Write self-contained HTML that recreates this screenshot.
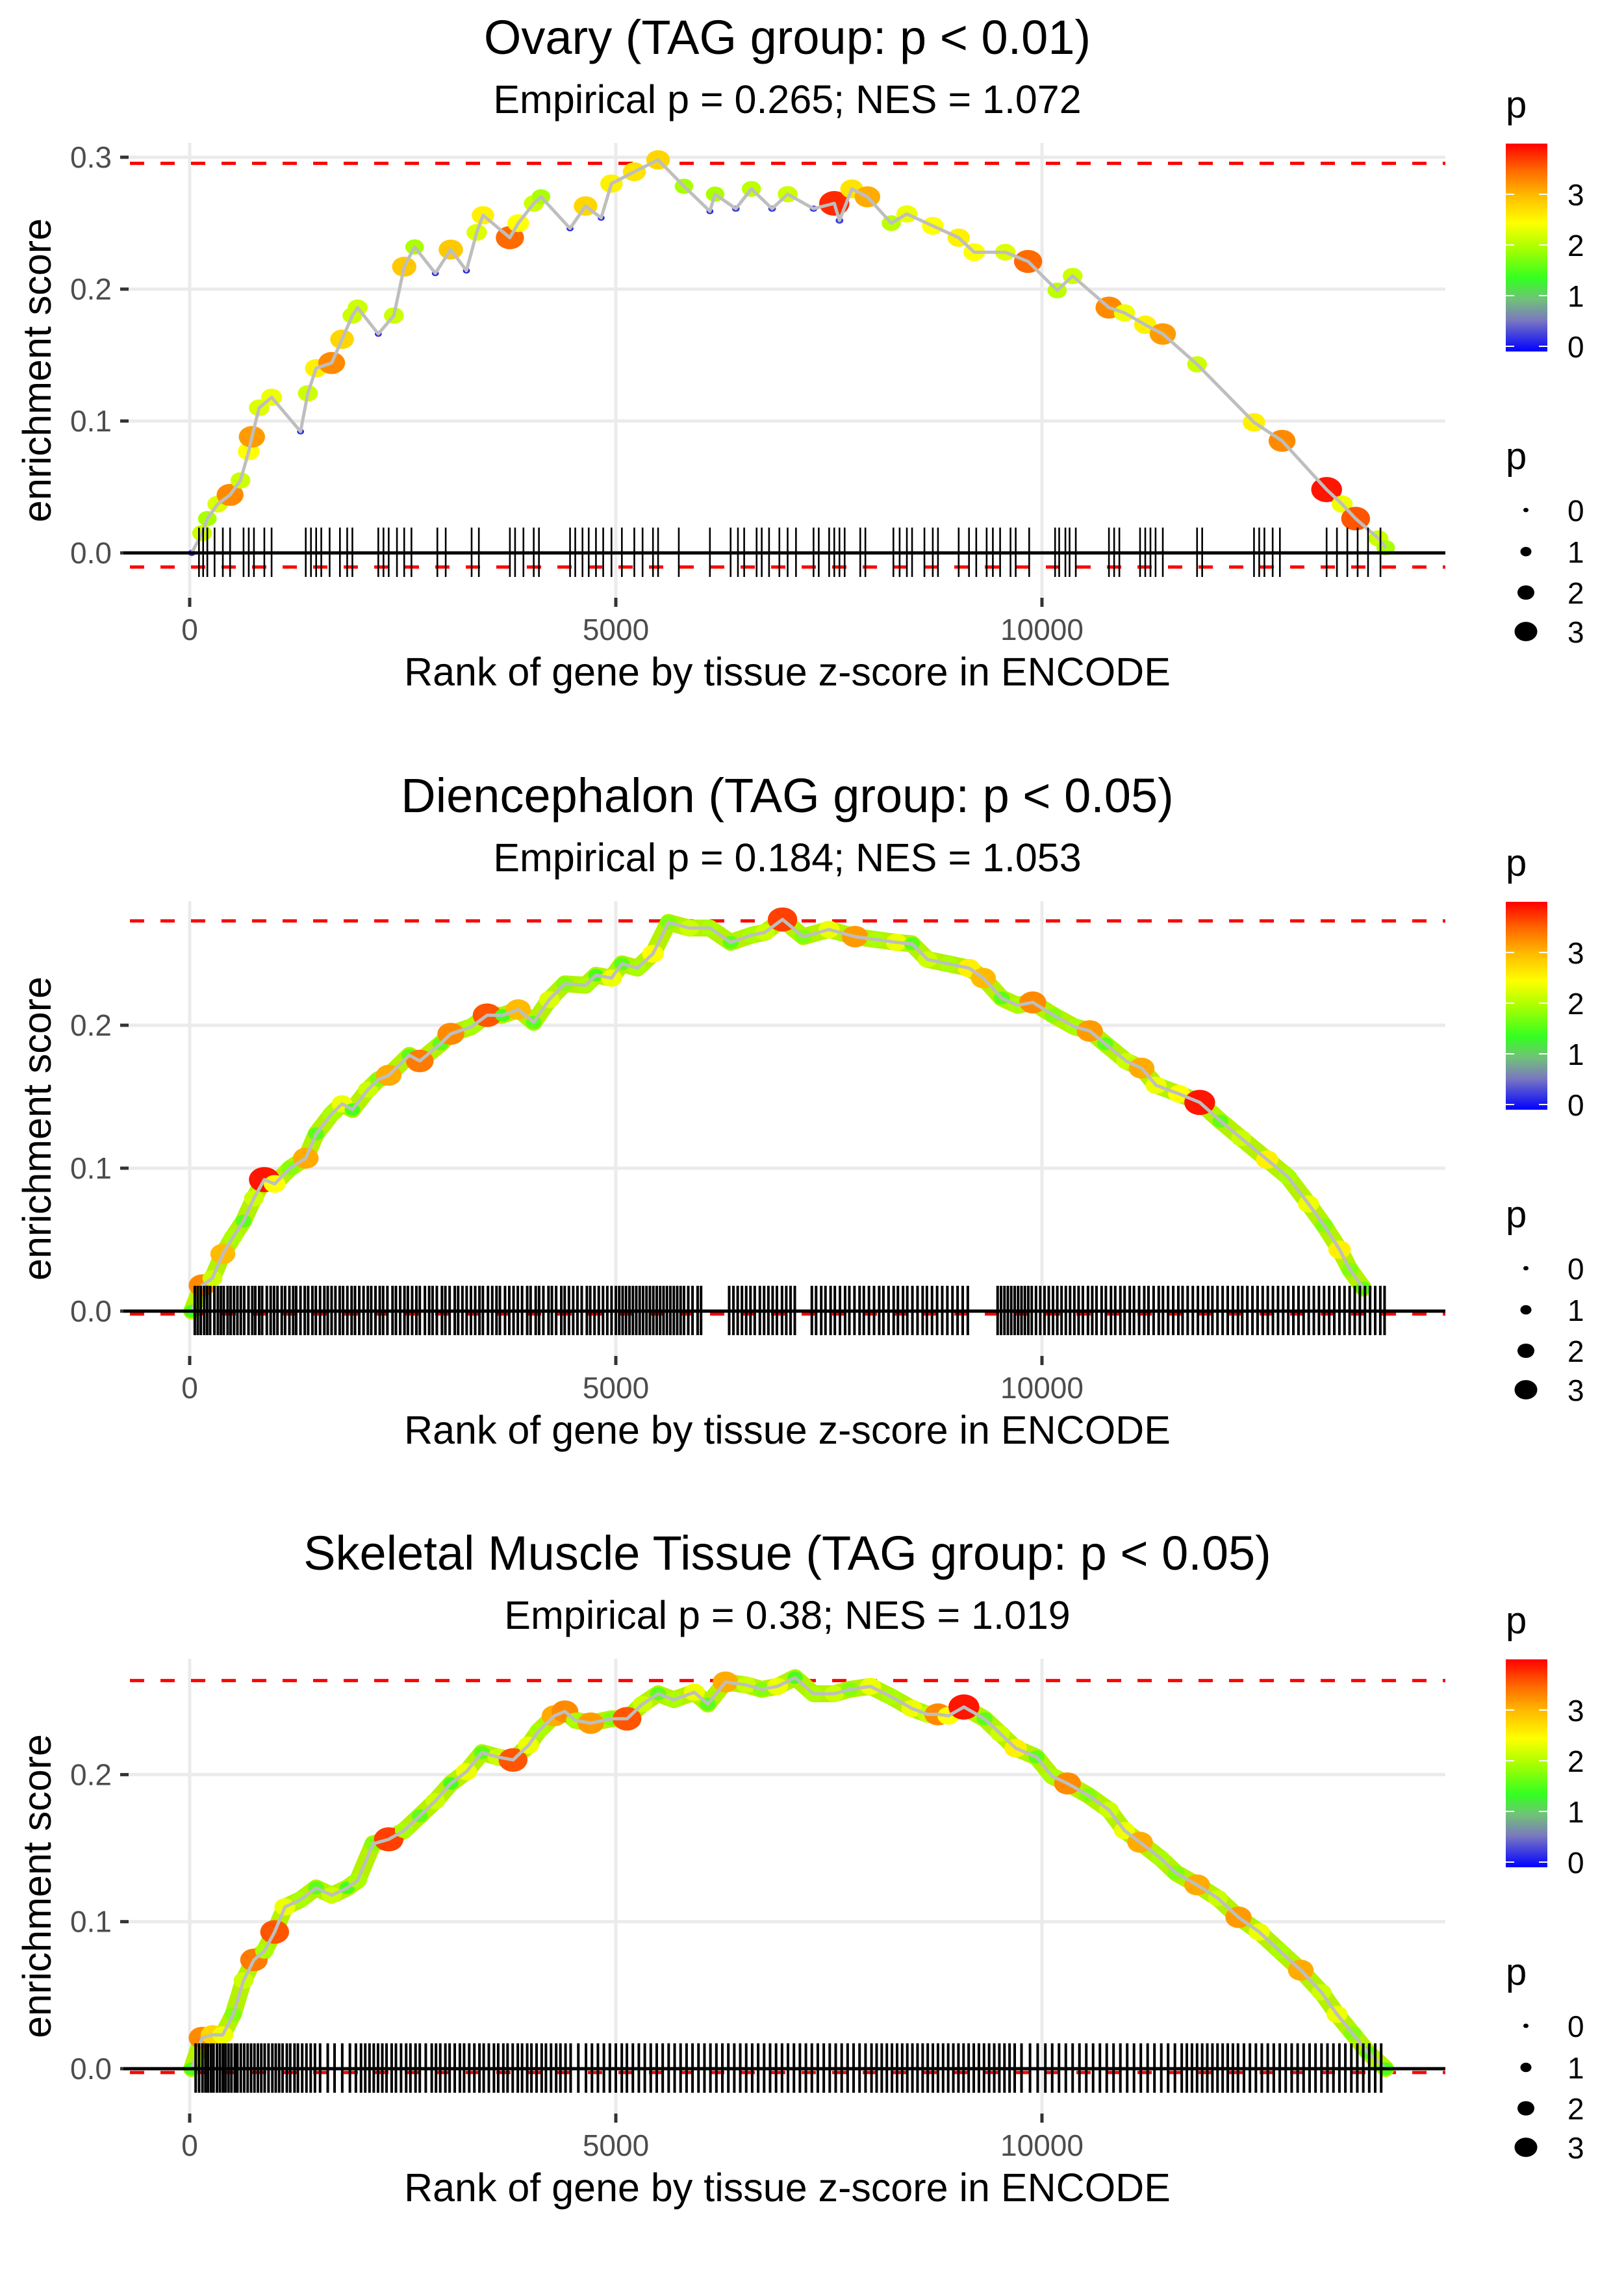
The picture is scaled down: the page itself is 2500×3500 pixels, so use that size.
<!DOCTYPE html>
<html><head><meta charset="utf-8"><title>Enrichment plots</title>
<style>
html,body{margin:0;padding:0;background:#fff;}
svg{display:block;font-family:"Liberation Sans",sans-serif;}
</style></head>
<body>
<svg id="fig" width="2500" height="3500" viewBox="0 0 2500 3500" xmlns="http://www.w3.org/2000/svg">
<defs>
<linearGradient id="pgrad" x1="0" y1="1" x2="0" y2="0">
<stop offset="0" stop-color="#0000ff"/>
<stop offset="0.15" stop-color="#7a78c0"/>
<stop offset="0.25" stop-color="#72c07a"/>
<stop offset="0.35" stop-color="#33ff22"/>
<stop offset="0.5" stop-color="#aaff00"/>
<stop offset="0.62" stop-color="#ffff00"/>
<stop offset="0.75" stop-color="#ffbb00"/>
<stop offset="0.87" stop-color="#ff6a00"/>
<stop offset="1" stop-color="#ff0000"/>
</linearGradient>
</defs>
</svg>
<script>
// ---------- Data ----------
const xTicks = [0, 5000, 10000];
const xTickLabels = ["0", "5000", "10000"];
const pLegendValues = [0, 1, 2, 3];

const titles = ["Ovary (TAG group: p < 0.01)", "Diencephalon (TAG group: p < 0.05)", "Skeletal Muscle Tissue (TAG group: p < 0.05)"];
const subtitles = ["Empirical p = 0.265; NES = 1.072", "Empirical p = 0.184; NES = 1.053", "Empirical p = 0.38; NES = 1.019"];

const p1YTicks = [0, 0.1, 0.2, 0.3];
const p1YTickLabels = ["0.0", "0.1", "0.2", "0.3"];
const p1MaxES = 0.2954;
const p1MinES = -0.0107;
const p1Ranks = [24,146,207,328,474,596,693,730,815,961,1301,1386,1484,1666,1788,1909,1970,2213,2396,2517,2639,2882,3064,3247,3368,3441,3757,3855,4037,4122,4463,4645,4828,4949,5217,5496,5800,6104,6165,6408,6591,6834,7016,7320,7563,7624,7769,7952,8232,8415,8719,9023,9205,9570,9837,10178,10360,10786,10968,11212,11418,11820,12488,12817,13340,13522,13680,13948,14033];
const p1ES = [0,0.015,0.026,0.037,0.044,0.055,0.077,0.088,0.110,0.118,0.092,0.121,0.140,0.144,0.162,0.180,0.186,0.166,0.180,0.217,0.232,0.212,0.230,0.214,0.243,0.256,0.239,0.250,0.265,0.270,0.246,0.263,0.254,0.280,0.289,0.298,0.278,0.259,0.272,0.261,0.276,0.261,0.272,0.261,0.265,0.252,0.276,0.270,0.250,0.257,0.248,0.239,0.228,0.228,0.221,0.199,0.210,0.186,0.182,0.173,0.166,0.143,0.099,0.085,0.048,0.037,0.026,0.011,0.004];
const p1P = [0.3,2.2,2.0,2.3,3.3,2.2,2.5,3.2,2.3,2.4,0.2,2.2,2.6,3.3,2.8,2.2,2.2,0.2,2.2,2.9,2.0,0.2,2.9,0.2,2.3,2.6,3.5,2.5,2.2,2.0,0.2,2.8,0.2,2.6,2.7,2.8,2.0,0.2,2.0,0.3,2.1,0.3,2.2,0.3,3.8,0.3,2.7,3.1,2.1,2.4,2.5,2.6,2.5,2.3,3.5,2.1,2.2,3.3,2.4,2.6,3.2,2.2,2.6,3.3,3.9,2.4,3.6,2.2,2.0];
const p1Hits = [109,158,207,292,389,474,632,693,754,876,961,1362,1423,1484,1544,1642,1763,1848,1909,2213,2274,2335,2432,2517,2602,2906,3004,3308,3393,3757,3818,3916,4037,4098,4463,4524,4609,4682,4767,4852,4949,5071,5217,5314,5436,5496,5739,6104,6347,6433,6506,6652,6712,6798,6919,7016,7114,7320,7381,7503,7563,7624,7685,7868,7928,8257,8330,8415,8476,8621,8719,8780,9023,9144,9229,9351,9424,9509,9631,9692,9850,10154,10202,10275,10324,10397,10786,10847,10908,11151,11212,11273,11333,11418,11820,11880,12488,12549,12610,12707,12792,13340,13461,13583,13704,13826,13972];

const p2YTicks = [0, 0.1, 0.2];
const p2YTickLabels = ["0.0", "0.1", "0.2"];
const p2MaxES = 0.273;
const p2MinES = -0.002;
const p2Ranks = [24,146,267,389,511,632,754,876,997,1179,1362,1484,1666,1788,1909,2092,2213,2335,2578,2700,2943,3064,3308,3490,3672,3855,4037,4220,4402,4645,4767,4949,5071,5253,5436,5618,5861,6104,6347,6591,6749,6956,7199,7502,7806,8049,8293,8475,8658,8901,9144,9313,9527,9710,9892,10135,10379,10561,10743,10987,11169,11339,11608,11851,12095,12338,12642,12885,13128,13310,13492,13614,13772];
const p2ES = [0,0.018,0.023,0.040,0.052,0.063,0.079,0.092,0.089,0.100,0.107,0.124,0.138,0.145,0.141,0.155,0.162,0.165,0.179,0.175,0.187,0.194,0.199,0.207,0.207,0.211,0.202,0.218,0.229,0.228,0.235,0.233,0.243,0.240,0.250,0.272,0.268,0.268,0.258,0.263,0.265,0.274,0.262,0.267,0.262,0.260,0.258,0.257,0.246,0.243,0.240,0.233,0.219,0.214,0.216,0.207,0.199,0.196,0.187,0.175,0.170,0.158,0.152,0.146,0.133,0.121,0.106,0.094,0.075,0.060,0.043,0.029,0.016];
const p2P = [1.5,3.3,2.2,3.0,2.0,1.6,2.2,3.9,2.5,1.8,3.1,1.6,2.0,2.4,1.5,2.2,1.8,3.1,1.6,3.4,1.6,3.3,2.0,3.6,1.5,3.0,1.6,2.3,1.8,2.0,1.5,2.4,1.6,2.0,2.5,1.8,2.2,2.0,1.6,2.0,2.2,3.7,1.8,2.4,3.2,2.0,2.4,1.6,2.2,2.0,2.6,3.0,1.6,2.0,3.3,1.8,2.0,3.2,1.6,2.2,3.1,2.4,2.5,3.9,1.6,2.2,2.6,2.0,2.4,1.8,2.6,1.8,1.6];
const p2Hits = [60,95,130,170,205,240,290,330,365,400,445,480,520,560,600,640,690,735,770,815,850,905,950,990,1030,1080,1120,1170,1215,1250,1300,1350,1390,1440,1480,1530,1580,1620,1665,1710,1760,1800,1850,1900,1940,1990,2040,2090,2130,2180,2230,2270,2320,2380,2420,2470,2520,2560,2610,2660,2700,2760,2810,2850,2900,2960,3000,3050,3110,3150,3200,3250,3300,3350,3400,3440,3500,3550,3600,3640,3700,3750,3800,3850,3900,3960,4000,4060,4100,4150,4210,4250,4300,4360,4400,4450,4500,4550,4600,4660,4700,4750,4800,4850,4900,4950,5000,5040,5080,5120,5160,5200,5240,5280,5320,5360,5400,5440,5480,5520,5560,5600,5640,5680,5720,5760,5800,5850,5900,5960,6000,6330,6380,6430,6480,6530,6580,6630,6690,6740,6790,6840,6890,6950,7000,7050,7100,7300,7350,7410,7460,7520,7570,7630,7690,7740,7800,7860,7910,7970,8030,8090,8140,8200,8260,8310,8370,8420,8480,8540,8600,8650,8710,8770,8830,8890,8950,9010,9070,9130,9480,9520,9560,9600,9640,9680,9720,9760,9800,9840,9880,9930,9980,10030,10080,10130,10180,10230,10280,10330,10380,10430,10480,10540,10590,10640,10700,10750,10810,10860,10920,10970,11030,11080,11140,11200,11250,11310,11370,11420,11480,11540,11600,11650,11710,11770,11830,11890,11950,12000,12060,12120,12180,12240,12300,12350,12410,12470,12530,12590,12650,12710,12770,12830,12890,12950,13010,13070,13130,13190,13250,13310,13370,13430,13490,13550,13610,13670,13730,13790,13850,13910,13970,14020];

const p3YTicks = [0, 0.1, 0.2];
const p3YTickLabels = ["0.0", "0.1", "0.2"];
const p3MaxES = 0.264;
const p3MinES = -0.0026;
const p3Ranks = [24,146,267,389,511,632,754,876,997,1118,1301,1484,1666,1848,1970,2152,2335,2517,2700,2882,3064,3247,3429,3611,3794,3976,4098,4280,4402,4524,4706,4949,5131,5314,5496,5679,5922,6080,6287,6530,6713,6896,7104,7320,7563,7745,7988,8232,8475,8658,8780,8901,9084,9327,9509,9692,9935,10118,10300,10543,10786,10968,11151,11394,11576,11820,12063,12306,12549,12792,13037,13280,13462,13645,13827,14033];
const p3ES = [0,0.021,0.023,0.023,0.037,0.060,0.074,0.080,0.093,0.110,0.115,0.123,0.118,0.123,0.128,0.153,0.156,0.162,0.172,0.182,0.194,0.202,0.215,0.212,0.210,0.220,0.230,0.240,0.243,0.237,0.235,0.238,0.238,0.248,0.255,0.251,0.256,0.248,0.263,0.261,0.258,0.260,0.266,0.255,0.255,0.258,0.260,0.253,0.245,0.241,0.241,0.240,0.246,0.238,0.228,0.218,0.212,0.199,0.194,0.186,0.176,0.162,0.154,0.143,0.133,0.125,0.116,0.103,0.093,0.080,0.067,0.052,0.037,0.024,0.011,0];
const p3P = [1.5,3.3,2.8,2.4,1.8,2.2,3.4,2.0,3.6,2.4,2.0,1.6,2.2,1.5,2.0,1.8,3.7,2.0,1.6,2.2,1.5,2.4,1.6,2.2,3.6,2.4,2.0,3.1,3.3,2.0,3.2,1.8,3.6,2.2,1.6,2.0,2.4,1.6,3.1,2.2,1.8,2.4,1.5,2.0,2.2,1.8,2.4,2.0,2.4,2.2,3.3,2.5,3.9,1.6,2.2,2.6,1.6,2.0,3.3,1.8,2.2,2.4,3.1,2.0,1.8,3.1,2.2,3.2,2.4,2.0,3.1,2.2,2.4,1.8,1.6,1.5];
const p3Hits = [70,110,150,185,215,250,280,320,355,390,420,455,490,530,560,600,640,680,720,760,800,840,880,925,970,1010,1050,1090,1140,1180,1230,1270,1320,1370,1420,1470,1530,1620,1700,1790,1880,1950,2010,2060,2110,2160,2210,2260,2310,2370,2420,2480,2540,2590,2650,2700,2770,2840,2890,2940,3000,3050,3110,3170,3220,3280,3340,3400,3450,3510,3570,3620,3680,3730,3790,3850,3900,3960,4010,4070,4130,4180,4240,4300,4350,4410,4470,4560,4650,4720,4790,4860,4930,5000,5070,5130,5200,5270,5340,5410,5480,5550,5620,5690,5760,5830,5900,5970,6040,6110,6180,6250,6320,6390,6460,6530,6600,6670,6740,6810,6880,6950,7020,7090,7160,7230,7300,7370,7440,7510,7580,7650,7720,7790,7860,7930,8000,8060,8120,8180,8240,8300,8360,8420,8480,8540,8600,8660,8720,8780,8840,8900,8960,9020,9080,9140,9200,9260,9320,9380,9440,9500,9560,9620,9680,9760,9860,9950,10040,10120,10200,10280,10360,10440,10520,10600,10680,10760,10840,10920,11000,11080,11160,11240,11320,11400,11480,11560,11640,11700,11760,11820,11880,11940,12000,12060,12120,12180,12240,12300,12370,12440,12510,12580,12650,12720,12790,12860,12930,13000,13070,13140,13210,13280,13350,13420,13490,13560,13630,13700,13770,13840,13910,13980];

// ---------- Drawing ----------
const NS = "http://www.w3.org/2000/svg";
const svg = document.getElementById("fig");
function mk(tag, attrs, parent) {
  const e = document.createElementNS(NS, tag);
  for (const k in attrs) e.setAttribute(k, attrs[k]);
  (parent || svg).appendChild(e);
  return e;
}
function lerp(a, b, t) { return a + (b - a) * t; }
const stops = [[0,[0,0,255]],[0.6,[122,120,192]],[1.0,[114,192,122]],[1.4,[51,255,34]],[2.0,[170,255,0]],[2.5,[255,255,0]],[3.0,[255,187,0]],[3.5,[255,106,0]],[4.0,[255,0,0]]];
function pColor(p) {
  p = Math.max(0, Math.min(4, p));
  for (let i = 1; i < stops.length; i++) {
    if (p <= stops[i][0]) {
      const t = (p - stops[i-1][0]) / (stops[i][0] - stops[i-1][0]);
      const c = stops[i-1][1].map((v, j) => Math.round(lerp(v, stops[i][1][j], t)));
      return "rgb(" + c.join(",") + ")";
    }
  }
  return "rgb(255,0,0)";
}
function pRadius(p) { return 4 + 4.5 * p; }

const PANEL_L = 190, PANEL_R = 2225, PANEL_T = 220, PANEL_B = 920;
function xScale(r) { return 292 + r * 0.1312; }

function drawChart(idx, off, yPerUnit, yTicks, yTickLabels, maxES, minES, ranks, es, pv, hits, band, hitW) {
  const g = mk("g", {});
  
  
  const y0 = off + 851;
  const yScale = v => y0 - v * yPerUnit;

  const t = mk("text", {x: 1212, y: off + 83, "text-anchor": "middle", "font-size": 74, fill: "#000"}, g);
  t.textContent = titles[idx];
  
  
  const st = mk("text", {x: 1212, y: off + 174, "text-anchor": "middle", "font-size": 61, fill: "#000"}, g);
  st.textContent = subtitles[idx];
  
  

  for (let i = 0; i < yTicks.length; i++) {
    const y = yScale(yTicks[i]);
    const gl = mk("line", {x1: PANEL_L, x2: PANEL_R, y1: y, y2: y, stroke: "#ebebeb", "stroke-width": 5}, g);
    
    
    const tk = mk("line", {x1: 185, x2: 198, y1: y, y2: y, stroke: "#333", "stroke-width": 5}, g);
    
    
    const lb = mk("text", {x: 172, y: y + 16, "text-anchor": "end", "font-size": 46, fill: "#4d4d4d"}, g);
    lb.textContent = yTickLabels[i];
    
    
  }
  for (let i = 0; i < xTicks.length; i++) {
    const x = xScale(xTicks[i]);
    const gl = mk("line", {x1: x, x2: x, y1: off + PANEL_T, y2: off + PANEL_B, stroke: "#ebebeb", "stroke-width": 5}, g);
    
    
    const tk = mk("line", {x1: x, x2: x, y1: off + 920, y2: off + 934, stroke: "#333", "stroke-width": 5}, g);
    
    
    const lb = mk("text", {x: x, y: off + 985, "text-anchor": "middle", "font-size": 46, fill: "#4d4d4d"}, g);
    lb.textContent = xTickLabels[i];
    
    
  }
  const xt = mk("text", {x: 1212, y: off + 1055, "text-anchor": "middle", "font-size": 61, fill: "#000"}, g);
  xt.textContent = "Rank of gene by tissue z-score in ENCODE";
  
  
  const yt = mk("text", {x: 0, y: 0, "text-anchor": "middle", "font-size": 61, fill: "#000", transform: "translate(78," + (off + 570) + ") rotate(-90)"}, g);
  yt.textContent = "enrichment score";
  
  

  [maxES, minES].forEach(v => {
    const l = mk("line", {x1: 200, x2: PANEL_R, y1: yScale(v), y2: yScale(v), stroke: "#ff0000", "stroke-width": 5, "stroke-dasharray": "22 25"}, g);
    
    
  });

  const pts = ranks.map((r, i) => xScale(r).toFixed(1) + "," + yScale(es[i]).toFixed(1)).join(" ");
  if (band) {
    const b = mk("polyline", {points: pts, fill: "none", stroke: "#b4f200", "stroke-width": 26, "stroke-linejoin": "round", "stroke-linecap": "round"}, g);
    
    
  }
  for (let i = 0; i < ranks.length; i++) {
    const c = mk("ellipse", {cx: xScale(ranks[i]), cy: yScale(es[i]), rx: pRadius(pv[i]) * 1.1, ry: pRadius(pv[i]) * 0.9, fill: pColor(pv[i])}, g);
    
    
  }
  const ln = mk("polyline", {points: pts, fill: "none", stroke: "#bebebe", "stroke-width": 5, "stroke-linejoin": "round"}, g);
  
  

  for (let i = 0; i < hits.length; i++) {
    const x = xScale(hits[i]);
    const h = mk("line", {x1: x, x2: x, y1: off + 812, y2: off + 888, stroke: "#000", "stroke-width": hitW}, g);
    
    
  }
  const zl = mk("line", {x1: PANEL_L, x2: PANEL_R, y1: y0, y2: y0, stroke: "#000", "stroke-width": 5}, g);
  
  

  const lt = mk("text", {x: 2318, y: off + 181, "font-size": 58, fill: "#000"}, g);
  lt.textContent = "p";
  
  
  const bar = mk("rect", {x: 2318, y: off + 221, width: 64, height: 320, fill: "url(#pgrad)"}, g);
  
  
  for (let i = 0; i < pLegendValues.length; i++) {
    const y = off + 533 - pLegendValues[i] * 78;
    mk("line", {x1: 2318, x2: 2331, y1: y, y2: y, stroke: "#fff", "stroke-width": 2}, g);
    mk("line", {x1: 2369, x2: 2382, y1: y, y2: y, stroke: "#fff", "stroke-width": 2}, g);
    const lb = mk("text", {x: 2413, y: y + 17, "font-size": 46, fill: "#000"}, g);
    lb.textContent = String(pLegendValues[i]);
    
    
  }
  const st2 = mk("text", {x: 2318, y: off + 722, "font-size": 58, fill: "#000"}, g);
  st2.textContent = "p";
  
  
  const sizeY = [785, 849, 912, 972];
  for (let i = 0; i < pLegendValues.length; i++) {
    const r = pRadius(pLegendValues[i]);
    const d = mk("ellipse", {cx: 2349, cy: off + sizeY[i], rx: r * 1.0, ry: r * 0.85, fill: "#000"}, g);
    
    
    const lb = mk("text", {x: 2413, y: off + sizeY[i] + 17, "font-size": 46, fill: "#000"}, g);
    lb.textContent = String(pLegendValues[i]);
    
    
  }
}

drawChart(0, 0, 2030, p1YTicks, p1YTickLabels, p1MaxES, p1MinES, p1Ranks, p1ES, p1P, p1Hits, false, 2.6);
drawChart(1, 1167, 2200, p2YTicks, p2YTickLabels, p2MaxES, p2MinES, p2Ranks, p2ES, p2P, p2Hits, true, 4);
drawChart(2, 2333, 2263, p3YTicks, p3YTickLabels, p3MaxES, p3MinES, p3Ranks, p3ES, p3P, p3Hits, true, 4);
</script>
</body></html>
